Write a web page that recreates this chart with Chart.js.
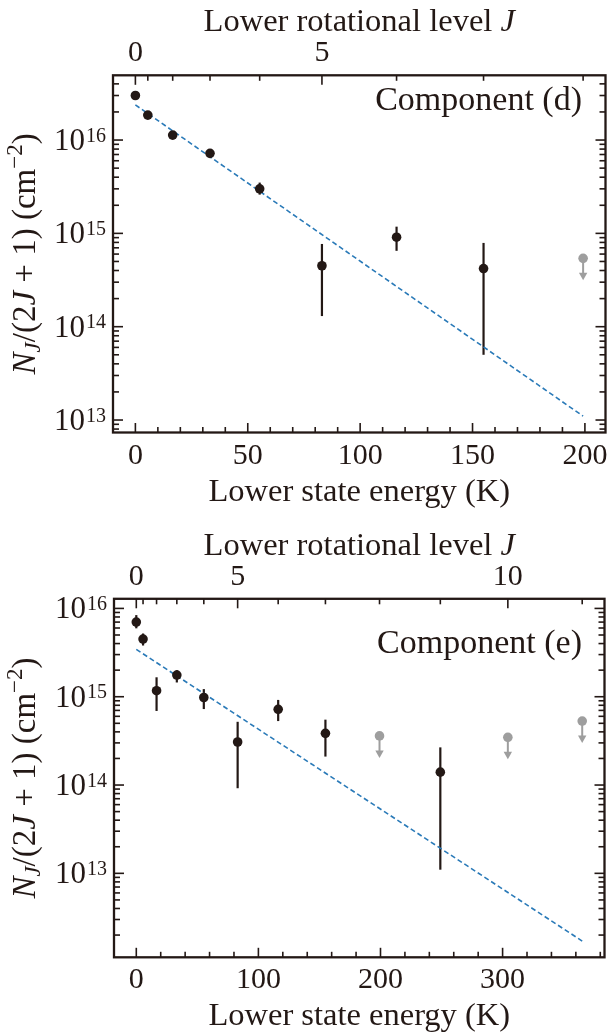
<!DOCTYPE html>
<html><head><meta charset="utf-8">
<script src="https://cdn.jsdelivr.net/npm/chart.js@4.4.1/dist/chart.umd.min.js"></script>
<style>
html,body{margin:0;padding:0;background:#fff;}
#wrap{position:relative;width:608px;height:1032px;overflow:hidden;background:#fff;}
canvas{position:absolute;left:0;display:block;}
</style></head><body>
<div id="wrap">
<canvas id="cD" width="608" height="516" style="top:0;width:608px;height:516px"></canvas>
<canvas id="cE" width="608" height="516" style="top:516px;width:608px;height:516px"></canvas>
</div>
<script>
// ---------------- data ----------------
const levelJ = [0, 1, 2, 3, 4, 5, 6, 7, 8, 9, 10, 11];
const levelEnergy = [0, 5.53, 16.6, 33.2, 55.3, 83.0, 116.2, 154.9, 199.2, 249.0, 304.3, 365.2];
const jTickLabels = [0, 5, 10];

// Component (d)
const dEnergy   = [0, 5.53, 16.6, 33.2, 55.3, 83.0, 116.2, 154.9];
const dValue    = [3.0e16, 1.85e16, 1.13e16, 7.2e15, 3.0e15, 4.5e14, 9.1e14, 4.2e14];
const dErrHigh  = [3.25e16, 2.0e16, 1.2e16, 7.6e15, 3.5e15, 7.7e14, 1.18e15, 7.9e14];
const dErrLow   = [2.8e16, 1.7e16, 1.06e16, 6.8e15, 2.6e15, 1.3e14, 6.5e14, 5.0e13];
const dLimitEnergy = [199.2];
const dLimitValue  = [5.4e14];
const dFitEnergy = [0, 199.2];
const dFitValue  = [2.38e16, 1.1e13];
const dXTicks = [0, 50, 100, 150, 200];
const dYTicks = [1e13, 1e14, 1e15, 1e16];

// Component (e)
const eEnergy   = [0, 5.53, 16.6, 33.2, 55.3, 83.0, 116.2, 154.9, 249.0];
const eValue    = [7.0e15, 4.5e15, 1.17e15, 1.76e15, 9.8e14, 3.07e14, 7.2e14, 3.85e14, 1.4e14];
const eErrHigh  = [8.4e15, 5.2e15, 1.66e15, 2.0e15, 1.22e15, 5.2e14, 9.2e14, 5.5e14, 2.67e14];
const eErrLow   = [5.95e15, 3.8e15, 6.9e14, 1.45e15, 7.25e14, 9.2e13, 5.3e14, 2.1e14, 1.1e13];
const eLimitEnergy = [199.2, 304.3, 365.2];
const eLimitValue  = [3.6e14, 3.47e14, 5.3e14];
const eFitEnergy = [0, 365.2];
const eFitValue  = [3.44e15, 1.71e12];
const eXTicks = [0, 100, 200, 300];
const eYTicks = [1e13, 1e14, 1e15, 1e16];

// ---------------- style ----------------
const INK = '#231815';
const GRAY = '#9e9e9e';
const BLUE = '#2a7ab8';
const FF = '"Liberation Serif", "Times New Roman", serif';
const CW = 608, CH = 516;

const panels = [
  { id: 'cD', name: 'Component (d)', energy: dEnergy, value: dValue, hi: dErrHigh, lo: dErrLow,
    limE: dLimitEnergy, limV: dLimitValue, fitE: dFitEnergy, fitV: dFitValue,
    xMin: -9.96, xMax: 209.16, yMin: 7.35e12, yMax: 4.94e16, xTicks: dXTicks, xMinorStep: 10, yTicks: dYTicks,
    frame: { left: 113, right: 605.5, top: 75.3, bottom: 432.5 }, compBaseline: 110 },
  { id: 'cE', name: 'Component (e)', energy: eEnergy, value: eValue, hi: eErrHigh, lo: eErrLow,
    limE: eLimitEnergy, limV: eLimitValue, fitE: eFitEnergy, fitV: eFitValue,
    xMin: -18.26, xMax: 383.46, yMin: 1.12e12, yMax: 1.285e16, xTicks: eXTicks, xMinorStep: 20, yTicks: eYTicks,
    frame: { left: 114, right: 604.5, top: 82.8, bottom: 441.3 }, compBaseline: 137 }
];

function drawRich(ctx, segs, x, y, align) {
  let w = 0;
  segs.forEach(s => { ctx.font = s.f; s.w = ctx.measureText(s.t).width; w += s.w; });
  let cx = align === 'center' ? x - w / 2 : (align === 'right' ? x - w : x);
  ctx.textAlign = 'left'; ctx.textBaseline = 'alphabetic';
  segs.forEach(s => { ctx.font = s.f; ctx.fillText(s.t, cx, y + (s.dy || 0)); cx += s.w; });
}

function decoPlugin(p) {
  return {
    id: 'deco',
    beforeDatasetsDraw(chart) {
      const ctx = chart.ctx, xs = chart.scales.x, ys = chart.scales.y;
      ctx.save();
      ctx.strokeStyle = INK; ctx.lineWidth = 2.2; ctx.lineCap = 'butt';
      p.energy.forEach((e, i) => {
        const x = xs.getPixelForValue(e);
        ctx.beginPath();
        ctx.moveTo(x, ys.getPixelForValue(p.lo[i]));
        ctx.lineTo(x, ys.getPixelForValue(p.hi[i]));
        ctx.stroke();
      });
      ctx.strokeStyle = GRAY; ctx.fillStyle = GRAY; ctx.lineWidth = 2;
      p.limE.forEach((e, i) => {
        const x = xs.getPixelForValue(e), y = ys.getPixelForValue(p.limV[i]);
        const tip = y + 22;
        ctx.beginPath(); ctx.moveTo(x, y); ctx.lineTo(x, tip - 6); ctx.stroke();
        ctx.beginPath(); ctx.moveTo(x - 4.2, tip - 7.5); ctx.lineTo(x + 4.2, tip - 7.5); ctx.lineTo(x, tip); ctx.closePath(); ctx.fill();
      });
      ctx.restore();
    },
    afterDraw(chart) {
      const ctx = chart.ctx, a = chart.chartArea;
      const xs = chart.scales.x, xj = chart.scales.xJ, ys = chart.scales.y;
      ctx.save();
      ctx.strokeStyle = INK; ctx.fillStyle = INK;
      // ticks
      ctx.lineWidth = 1.6;
      xs.ticks.forEach(t => {
        const x = xs.getPixelForValue(t.value), L = t.major ? 9.5 : 5.5;
        ctx.beginPath(); ctx.moveTo(x, a.bottom); ctx.lineTo(x, a.bottom - L); ctx.stroke();
      });
      xj.ticks.forEach(t => {
        const x = xj.getPixelForValue(t.value), L = t.major ? 9.5 : 5.5;
        ctx.beginPath(); ctx.moveTo(x, a.top); ctx.lineTo(x, a.top + L); ctx.stroke();
      });
      ys.ticks.forEach(t => {
        const y = ys.getPixelForValue(t.value), L = t.major ? 10 : 6;
        ctx.beginPath(); ctx.moveTo(a.left, y); ctx.lineTo(a.left + L, y); ctx.stroke();
        ctx.beginPath(); ctx.moveTo(a.right, y); ctx.lineTo(a.right - L, y); ctx.stroke();
      });
      // frame
      ctx.lineWidth = 2.3;
      ctx.strokeRect(a.left, a.top, a.right - a.left, a.bottom - a.top);
      // bottom tick labels
      ctx.font = '30px ' + FF; ctx.textAlign = 'center'; ctx.textBaseline = 'alphabetic';
      p.xTicks.forEach(v => ctx.fillText(String(v), xs.getPixelForValue(v), a.bottom + 31));
      // top J labels
      xj.ticks.forEach(t => { if (t.major) ctx.fillText(String(t.j), xj.getPixelForValue(t.value), a.top - 14); });
      // y tick labels 10^n
      p.yTicks.forEach(v => {
        const y = ys.getPixelForValue(v);
        const ex = String(Math.round(Math.log10(v)));
        ctx.font = '20px ' + FF; ctx.textAlign = 'right';
        const ew = ctx.measureText(ex).width;
        ctx.fillText(ex, a.left - 7, y + 1.5);
        ctx.font = '31px ' + FF;
        ctx.fillText('10', a.left - 8 - ew, y + 10);
      });
      const cx = (a.left + a.right) / 2;
      // x title
      ctx.font = '32.5px ' + FF; ctx.textAlign = 'center';
      ctx.fillText('Lower state energy (K)', cx, a.bottom + 68);
      // top title
      drawRich(ctx, [
        { t: 'Lower rotational level ', f: '32.5px ' + FF },
        { t: 'J', f: 'italic 32.5px ' + FF }
      ], cx, a.top - 44, 'center');
      // component label
      ctx.font = '34px ' + FF; ctx.textAlign = 'right'; ctx.textBaseline = 'alphabetic';
      ctx.fillText(p.name, 582, p.compBaseline);
      // y title
      ctx.save();
      ctx.translate(35, (a.top + a.bottom) / 2);
      ctx.rotate(-Math.PI / 2);
      drawRich(ctx, [
        { t: 'N', f: 'italic 33px ' + FF },
        { t: 'J', f: 'italic 23px ' + FF, dy: 5 },
        { t: '/(2', f: '33px ' + FF },
        { t: 'J', f: 'italic 33px ' + FF },
        { t: ' + 1) (cm', f: '33px ' + FF },
        { t: '\u22122', f: '23px ' + FF, dy: -13 },
        { t: ')', f: '33px ' + FF }
      ], 0, 0, 'center');
      ctx.restore();
      ctx.restore();
    }
  };
}

function buildPanel(p) {
  const hidden = { ticks: { display: false }, grid: { display: false, drawTicks: false }, border: { display: false } };
  const cfg = {
    type: 'scatter',
    data: {
      datasets: [
        { label: 'fit', data: p.fitE.map((e, i) => ({ x: e, y: p.fitV[i] })), showLine: true,
          borderColor: BLUE, borderWidth: 1.6, borderDash: [5, 3], pointRadius: 0, order: 3 },
        { label: 'limits', data: p.limE.map((e, i) => ({ x: e, y: p.limV[i] })),
          pointRadius: 4.8, pointBackgroundColor: GRAY, pointBorderWidth: 0, borderColor: GRAY, order: 2 },
        { label: 'detections', data: p.energy.map((e, i) => ({ x: e, y: p.value[i] })),
          pointRadius: 4.8, pointBackgroundColor: INK, pointBorderWidth: 0, borderColor: INK, order: 1 }
      ]
    },
    options: {
      responsive: false, animation: false, devicePixelRatio: 1,
      layout: { padding: { left: 0, right: CW - p.frame.right, top: 0, bottom: 0 }, autoPadding: false },
      plugins: { legend: { display: false }, tooltip: { enabled: false } },
      scales: {
        x: Object.assign({ type: 'linear', position: 'bottom', min: p.xMin, max: p.xMax, bounds: 'data',
          afterBuildTicks(s) {
            const t = [];
            for (let v = Math.ceil(p.xMin / p.xMinorStep) * p.xMinorStep; v <= p.xMax; v += p.xMinorStep)
              t.push({ value: v, major: p.xTicks.includes(v) });
            s.ticks = t;
          },
          afterFit(s) { s.height = CH - p.frame.bottom; } }, hidden),
        xJ: Object.assign({ type: 'linear', position: 'top', min: p.xMin, max: p.xMax, bounds: 'data',
          afterBuildTicks(s) {
            const t = [];
            levelEnergy.forEach((e, i) => { if (e >= p.xMin && e <= p.xMax) t.push({ value: e, major: jTickLabels.includes(levelJ[i]), j: levelJ[i] }); });
            s.ticks = t;
          },
          afterFit(s) { s.height = p.frame.top; } }, hidden),
        y: Object.assign({ type: 'logarithmic', position: 'left', min: p.yMin, max: p.yMax, bounds: 'data',
          afterBuildTicks(s) {
            const t = [];
            const e0 = Math.floor(Math.log10(p.yMin)), e1 = Math.ceil(Math.log10(p.yMax));
            for (let e = e0; e <= e1; e++) for (let m = 1; m <= 9; m++) {
              const v = m * Math.pow(10, e);
              if (v >= p.yMin && v <= p.yMax) t.push({ value: v, major: m === 1 });
            }
            s.ticks = t;
          },
          afterFit(s) { s.width = p.frame.left; } }, hidden)
      }
    },
    plugins: [decoPlugin(p)]
  };
  return new Chart(document.getElementById(p.id), cfg);
}
panels.forEach(buildPanel);
</script>
</body></html>
